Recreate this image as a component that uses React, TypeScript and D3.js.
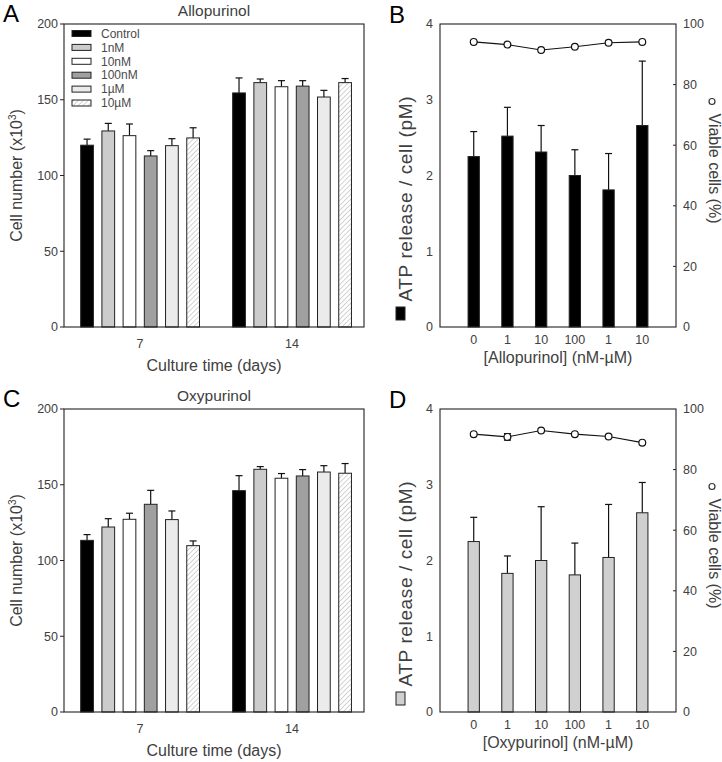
import React from "react";
import * as d3 from "d3";

// ---------- data ----------
const days = ["7", "14"];
const seriesNames = ["Control", "1nM", "10nM", "100nM", "1µM", "10µM"];
const seriesFill = ["#000000", "#cccccc", "#ffffff", "#a0a0a0", "#ebebeb", "url(#hatch)"];

const allo7 = [120, 129.4, 126.3, 112.9, 119.7, 124.8];
const allo7Err = [4, 5, 7.7, 3.5, 4.6, 6.7];
const allo14 = [154.5, 161.3, 158.6, 159, 151.8, 161.3];
const allo14Err = [9.9, 2.4, 4, 3.6, 4.4, 2.7];

const oxy7 = [113.3, 122.1, 127.2, 137.1, 127, 109.8];
const oxy7Err = [3.8, 5.5, 4, 9.2, 5.7, 3.1];
const oxy14 = [146.1, 160.2, 154.3, 155.8, 158.4, 157.6];
const oxy14Err = [9.9, 1.8, 3.1, 4.2, 4.2, 6.4];

const concLabels = ["0", "1", "10", "100", "1", "10"];
const alloATP = [2.25, 2.52, 2.31, 2.0, 1.81, 2.66];
const alloATPErr = [0.33, 0.38, 0.35, 0.34, 0.48, 0.85];
const alloViable = [94.1, 93.2, 91.4, 92.5, 93.8, 94.1];
const alloViableErr = [0, 0, 0, 0, 0, 0];

const oxyATP = [2.25, 1.83, 2.0, 1.81, 2.04, 2.63];
const oxyATPErr = [0.32, 0.23, 0.71, 0.42, 0.7, 0.4];
const oxyViable = [91.7, 90.8, 92.9, 91.7, 90.9, 88.9];
const oxyViableErr = [0, 1.1, 0, 0, 0, 0];

const cellTicks = [0, 50, 100, 150, 200];
const atpTicks = [0, 1, 2, 3, 4];
const viableTicks = [0, 20, 40, 60, 80, 100];

const FONT = "'Liberation Sans', Arial, Helvetica, sans-serif";
const TXT = "#404040";

function CellPanel(props: {
  top: number; letter: string; title: string;
  v7: number[]; e7: number[]; v14: number[]; e14: number[]; legend: boolean;
}) {
  const { top, letter, title, v7, e7, v14, e14, legend } = props;
  const x0 = 64, x1 = 364, bottom = top + 303;
  const y = d3.scaleLinear().domain([0, 200]).range([bottom, top]);
  const xg = d3.scalePoint<string>().domain(days).range([x0, x1]).padding(0.487).align(0.514);
  const xs = d3.scaleBand<string>().domain(seriesNames).range([-59.4, 59.4]).paddingInner(0.4).paddingOuter(0);
  const bw = xs.bandwidth();
  const groups = [
    { d: days[0], v: v7, e: e7 },
    { d: days[1], v: v14, e: e14 },
  ];
  return (
    <g>
      <text x={3} y={top - 2} fontSize={24} fill="#000" fontFamily={FONT}>{letter}</text>
      <text x={(x0 + x1) / 2} y={top - 8} fontSize={15.5} fill={TXT} textAnchor="middle" fontFamily={FONT}>{title}</text>
      {groups.map((g) =>
        seriesNames.map((s, i) => {
          const cx = (xg(g.d) as number) + (xs(s) as number);
          const yv = y(g.v[i]);
          const ye = y(g.v[i] + g.e[i]);
          const mid = cx + bw / 2;
          return (
            <g key={g.d + s}>
              <line x1={mid} x2={mid} y1={yv} y2={ye} stroke="#111" strokeWidth={1.2} />
              <line x1={mid - 3.5} x2={mid + 3.5} y1={ye} y2={ye} stroke="#111" strokeWidth={1.2} />
              <rect x={cx} y={yv} width={bw} height={bottom - yv} fill={seriesFill[i]} stroke="#222" strokeWidth={1} />
            </g>
          );
        })
      )}
      <rect x={x0} y={top} width={x1 - x0} height={bottom - top} fill="none" stroke="#222" strokeWidth={1.1} />
      {cellTicks.map((t) => (
        <g key={t}>
          <line x1={x0 - 4} x2={x0} y1={y(t)} y2={y(t)} stroke="#222" strokeWidth={1} />
          <text x={x0 - 6} y={y(t)} dy="0.35em" fontSize={12.5} fill={TXT} textAnchor="end" fontFamily={FONT}>{t}</text>
        </g>
      ))}
      {days.map((d) => (
        <text key={d} x={xg(d)} y={bottom + 21} fontSize={12.5} fill={TXT} textAnchor="middle" fontFamily={FONT}>{d}</text>
      ))}
      <text x={(x0 + x1) / 2} y={bottom + 44} fontSize={16} fill={TXT} textAnchor="middle" fontFamily={FONT}>Culture time (days)</text>
      <text transform={`translate(22,${(top + bottom) / 2}) rotate(-90)`} fontSize={16} fill={TXT} textAnchor="middle" fontFamily={FONT}>
        Cell number (x10<tspan fontSize={10} dy={-6}>3</tspan><tspan dy={6}>)</tspan>
      </text>
      {legend &&
        seriesNames.map((s, i) => {
          const ly = top + 9.5 + i * 13.9;
          return (
            <g key={"lg" + s}>
              <rect x={72} y={ly - 3} width={19} height={6} fill={seriesFill[i]} stroke="#222" strokeWidth={1} />
              <text x={101} y={ly} dy="0.35em" fontSize={12} fill="#4a4a4a" fontFamily={FONT}>{s}</text>
            </g>
          );
        })}
    </g>
  );
}

function AtpPanel(props: {
  top: number; letter: string; drug: string; fill: string;
  atp: number[]; atpErr: number[]; viable: number[]; viableErr: number[];
}) {
  const { top, letter, drug, fill, atp, atpErr, viable, viableErr } = props;
  const x0 = 440, x1 = 676, bottom = top + 303;
  const idx = concLabels.map((_, i) => String(i));
  const x = d3.scalePoint<string>().domain(idx).range([x0, x1]).padding(1);
  const y = d3.scaleLinear().domain([0, 4]).range([bottom, top]);
  const yr = d3.scaleLinear().domain([0, 100]).range([bottom, top]);
  const bw = 11.3;
  const line = d3.line<number>().x((_, i) => x(String(i)) as number).y((v) => yr(v));
  const mid = (top + bottom) / 2;
  const labC = top + 175;
  return (
    <g>
      <text x={389} y={top - 1} fontSize={24} fill="#000" fontFamily={FONT}>{letter}</text>
      {atp.map((v, i) => {
        const cx = x(String(i)) as number;
        const yv = y(v);
        const ye = y(v + atpErr[i]);
        return (
          <g key={i}>
            <line x1={cx} x2={cx} y1={yv} y2={ye} stroke="#111" strokeWidth={1.2} />
            <line x1={cx - 3.5} x2={cx + 3.5} y1={ye} y2={ye} stroke="#111" strokeWidth={1.2} />
            <rect x={cx - bw / 2} y={yv} width={bw} height={bottom - yv} fill={fill} stroke="#222" strokeWidth={1} />
          </g>
        );
      })}
      <path d={line(viable) as string} fill="none" stroke="#111" strokeWidth={1.1} />
      {viable.map((v, i) => {
        const cx = x(String(i)) as number;
        const e = viableErr[i];
        return (
          <g key={"v" + i}>
            {e > 0 && (
              <g>
                <line x1={cx} x2={cx} y1={yr(v - e)} y2={yr(v + e)} stroke="#111" strokeWidth={1.1} />
                <line x1={cx - 3.5} x2={cx + 3.5} y1={yr(v + e)} y2={yr(v + e)} stroke="#111" strokeWidth={1.1} />
                <line x1={cx - 3.5} x2={cx + 3.5} y1={yr(v - e)} y2={yr(v - e)} stroke="#111" strokeWidth={1.1} />
              </g>
            )}
            <circle cx={cx} cy={yr(v)} r={3.4} fill="#fff" stroke="#111" strokeWidth={1.2} />
          </g>
        );
      })}
      <rect x={x0} y={top} width={x1 - x0} height={bottom - top} fill="none" stroke="#222" strokeWidth={1.1} />
      {atpTicks.map((t) => (
        <text key={t} x={x0 - 7} y={y(t)} dy="0.35em" fontSize={12.5} fill={TXT} textAnchor="end" fontFamily={FONT}>{t}</text>
      ))}
      {viableTicks.map((t) => (
        <g key={"r" + t}>
          {t > 0 && t < 100 && <line x1={x1 - 3} x2={x1} y1={yr(t)} y2={yr(t)} stroke="#222" strokeWidth={1} />}
          <text x={x1 + 7} y={yr(t)} dy="0.35em" fontSize={12.5} fill={TXT} fontFamily={FONT}>{t}</text>
        </g>
      ))}
      {concLabels.map((c, i) => (
        <text key={"c" + i} x={x(String(i))} y={bottom + 17} fontSize={12.5} fill={TXT} textAnchor="middle" fontFamily={FONT}>{c}</text>
      ))}
      <text x={(x0 + x1) / 2} y={bottom + 36} fontSize={16} fill={TXT} textAnchor="middle" fontFamily={FONT}>[{drug}] (nM-µM)</text>
      <text transform={`translate(412,${labC}) rotate(-90)`} fontSize={19} fill={TXT} textAnchor="middle" fontFamily={FONT}
        textLength={205} lengthAdjust="spacing">ATP release / cell (pM)</text>
      <rect x={396} y={labC + 108} width={9} height={13} fill={fill} stroke="#222" strokeWidth={1} />
      <circle cx={712} cy={mid - 74} r={3} fill="#fff" stroke="#333" strokeWidth={1.2} />
      <text transform={`translate(709,${mid - 7}) rotate(90)`} fontSize={16} fill={TXT} textAnchor="middle" fontFamily={FONT}>Viable cells (%)</text>
    </g>
  );
}

export default function App() {
  return (
    <svg width={722} height={762} style={{ position: "absolute", left: 0, top: 0, background: "#fff" }}>
      <defs>
        <pattern id="hatch" patternUnits="userSpaceOnUse" width={3.5} height={3.5} patternTransform="rotate(45)">
          <rect width={3.5} height={3.5} fill="#fff" />
          <line x1={0} y1={0} x2={0} y2={3.5} stroke="#b0b0b0" strokeWidth={1.1} />
        </pattern>
      </defs>
      <rect width={722} height={762} fill="#fff" />
      <CellPanel top={24} letter="A" title="Allopurinol" v7={allo7} e7={allo7Err} v14={allo14} e14={allo14Err} legend={true} />
      <CellPanel top={409} letter="C" title="Oxypurinol" v7={oxy7} e7={oxy7Err} v14={oxy14} e14={oxy14Err} legend={false} />
      <AtpPanel top={24} letter="B" drug="Allopurinol" fill="#000" atp={alloATP} atpErr={alloATPErr} viable={alloViable} viableErr={alloViableErr} />
      <AtpPanel top={409} letter="D" drug="Oxypurinol" fill="#d0d0d0" atp={oxyATP} atpErr={oxyATPErr} viable={oxyViable} viableErr={oxyViableErr} />
    </svg>
  );
}
